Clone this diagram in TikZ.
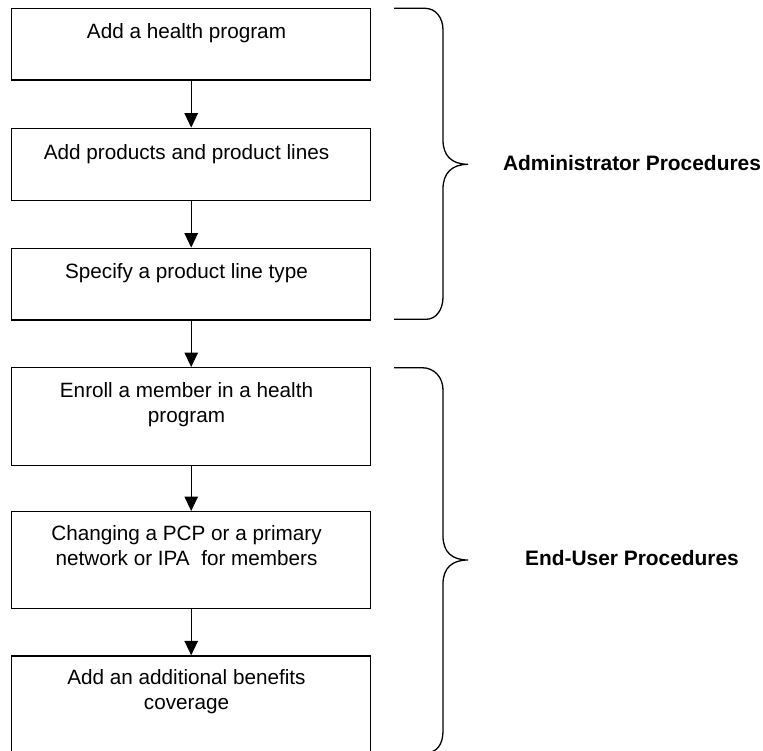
\documentclass[tikz,border=0pt]{standalone}
\usepackage{fontspec}
\setmainfont{Liberation Sans}
\usetikzlibrary{arrows.meta}
\newcommand\boxstrut{\rule{0pt}{16pt}}
\begin{document}
\begin{tikzpicture}[x=1pt,y=-1pt,
  box/.style={draw=black, line width=1.4pt, inner sep=0pt, minimum width=359pt},
  steptext/.style={anchor=north, inner sep=0pt, align=center, font=\fontsize{20.7}{25.3}\selectfont},
  flow/.style={draw=black, line width=1.3pt, -{Triangle[width=13.5pt,length=14.5pt]}},
  brace/.style={draw=black, line width=1.3pt},
  grouplabel/.style={anchor=base, inner sep=0pt, font=\bfseries\fontsize{20.9}{25}\selectfont}]
\useasboundingbox (0,0) rectangle (763,750);
\clip (0,0) rectangle (763,750);

% boxes
\node[box, minimum height=71.7pt] (b1) at (191.2,44.15) {};
\node[box, minimum height=72.4pt] (b2) at (191.2,164.5) {};
\node[box, minimum height=71.7pt] (b3) at (191.2,284.15) {};
\node[box, minimum height=98pt]   (b4) at (191.2,416.7) {};
\node[box, minimum height=96.6pt] (b5) at (191.2,560) {};
\node[box, minimum height=104pt]  (b6) at (191.2,708) {};

% texts
\node[steptext] (t1) at (186.5,22.3)  {\boxstrut Add a health program};
\node[steptext] (t2) at (186.5,143.3) {\boxstrut Add products and product lines};
\node[steptext] (t3) at (186.5,262.3) {\boxstrut Specify a product line type};
\node[steptext] (t4) at (186.5,381.3) {\boxstrut Enroll a member in a health\\program};
\node[steptext] (t5) at (186.5,524)   {\boxstrut Changing a PCP or a primary\\network or IPA\ \ for members};
\node[steptext] (t6) at (186.5,668)   {\boxstrut Add an additional benefits\\coverage};

% arrows
\draw[flow] (b1) -- (b2);
\draw[flow] (b2) -- (b3);
\draw[flow] (b3) -- (b4);
\draw[flow] (b4) -- (b5);
\draw[flow] (b5) -- (b6);

% braces
\draw[brace] (394,8.3) -- (425,8.3) .. controls (436,8.3) and (443,18) .. (443,30)
  -- (443,140) .. controls (443,156) and (452,164.3) .. (468,164.3)
  .. controls (452,164.3) and (443,173) .. (443,189)
  -- (443,297) .. controls (443,310) and (436,319.3) .. (426,319.3) -- (394,319.3);
\draw[brace] (394,367.7) -- (422,367.7) .. controls (434,367.7) and (443,377) .. (443,390)
  -- (443,536) .. controls (443,552) and (452,560) .. (468,560)
  .. controls (452,560) and (443,568) .. (443,584)
  -- (443,731) .. controls (443,744) and (437,752.5) .. (427,752.5) -- (394,752.5);

% group labels
\node[grouplabel] (admin) at (632,170) {Administrator Procedures};
\node[grouplabel] (enduser) at (632,565.5) {End-User Procedures};
\end{tikzpicture}
\end{document}
